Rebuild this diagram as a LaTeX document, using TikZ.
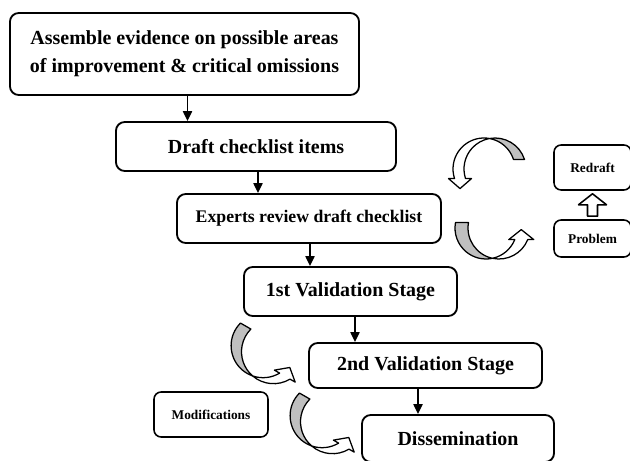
\documentclass[tikz,border=0pt]{standalone}
\usepackage{fontspec}
\setmainfont{Liberation Serif}
\usetikzlibrary{arrows.meta,calc}

% twisted ribbon arrow: #1,#2 centre of the front arc, #3/#4 direction/length of the
% shift to the back arc, #5 radius, #6 start angle, #7 end angle
\newcommand{\twistarrow}[7]{%
  \pgfmathsetmacro\tw{asin(#4/(2*#5))}
  \pgfmathsetmacro\twa{#3+90-\tw}
  \pgfmathsetmacro\twb{#3+90+\tw}
  \coordinate (tc) at (#1,#2);
  \coordinate (td) at ($(tc)+(#3:#4)$);
  \filldraw[back] ($(td)+(#6:#5)$) arc[start angle=#6, end angle=\twb, radius=#5]
    arc[start angle=\twa, end angle=#6, radius=#5] -- cycle;
  \filldraw[front] ($(tc)+(\twa:#5)$) arc[start angle=\twa, end angle=#7, radius=#5]
    -- ++(#3+180:6) -- ($(tc)+(#7:#5)+(#3:#4/2)+(#3-90:10)$)
    -- ($(td)+(#7:#5)+(#3:6)$) -- ($(td)+(#7:#5)$)
    arc[start angle=#7, end angle=\twb, radius=#5] -- cycle;
}

\begin{document}
\begin{tikzpicture}[x=0.025cm, y=0.025cm, line join=round,
    stage/.style={draw, rounded corners=2.2mm, line width=1.3pt, align=center, inner sep=0pt,
      font=\bfseries\fontsize{14.2}{19.9}\selectfont},
    note/.style={draw, rounded corners=1.8mm, line width=1.1pt, inner sep=0pt,
      font=\bfseries\fontsize{9.5}{11}\selectfont},
    flow/.style={-{Triangle[length=2.5mm, width=2.3mm]}, line width=1.1pt},
    back/.style={draw, fill=black!25, line width=0.9pt},
    front/.style={draw, fill=white, line width=0.9pt}]
  \useasboundingbox (0,0) rectangle (630,460);

  % main steps
  \node[stage, minimum width=8.725cm, minimum height=2.05cm] (s1) at (184.5,406)
    {Assemble evidence on possible areas\\ of improvement \& critical omissions};
  \node[stage, minimum width=7cm, minimum height=1.225cm] (s2) at (256,313.5) {Draft checklist items};
  \node[stage, minimum width=6.6cm, minimum height=1.225cm, font=\bfseries\fontsize{12.6}{15}\selectfont]
    (s3) at (309,241.5) {Experts review draft checklist};
  \node[stage, minimum width=5.325cm, minimum height=1.225cm] (s4) at (350.5,168.5) {1st Validation Stage};
  \node[stage, minimum width=5.825cm, minimum height=1.125cm] (s5) at (425.5,94.5) {2nd Validation Stage};
  \node[stage, minimum width=4.8cm, minimum height=1.175cm] (s6) at (458,21.5) {Dissemination};

  % side notes
  \node[note, minimum width=2.85cm, minimum height=1.125cm] (mod) at (211,45.5) {Modifications};
  \node[note, minimum width=1.925cm, minimum height=1.125cm] (redraft) at (592.5,292.5) {Redraft};
  \node[note, minimum width=1.925cm, minimum height=0.925cm] (prob) at (592.5,221.5) {Problem};

  \foreach \a/\b/\dx in {s1/s2/3, s2/s3/2, s3/s4/1, s4/s5/4.5, s5/s6/-7.5}
    \draw[flow] ($(\a.south)+(\dx,0)$) -- ($(\a.south |- \b.north)+(\dx,0)$);

  % hollow arrow from problem up to redraft
  \draw[front, line width=1.1pt] ($(prob.north)+(-5,3)$) -- ($(redraft.south)+(-5,-14)$)
    -- ($(redraft.south)+(-14,-14)$) -- ($(redraft.south)+(0,-3)$) -- ($(redraft.south)+(14,-14)$)
    -- ($(redraft.south)+(5,-14)$) -- ($(prob.north)+(5,3)$) -- cycle;

  % loop arrows
  \twistarrow{484}{291}{0}{11}{31}{18}{198}
  \twistarrow{499}{232}{180}{13}{31}{170}{338}
  \twistarrow{273.5}{108.3}{150}{12}{32}{135}{301}
  \twistarrow{332.5}{38.3}{150}{12}{32}{135}{301}
\end{tikzpicture}
\end{document}
